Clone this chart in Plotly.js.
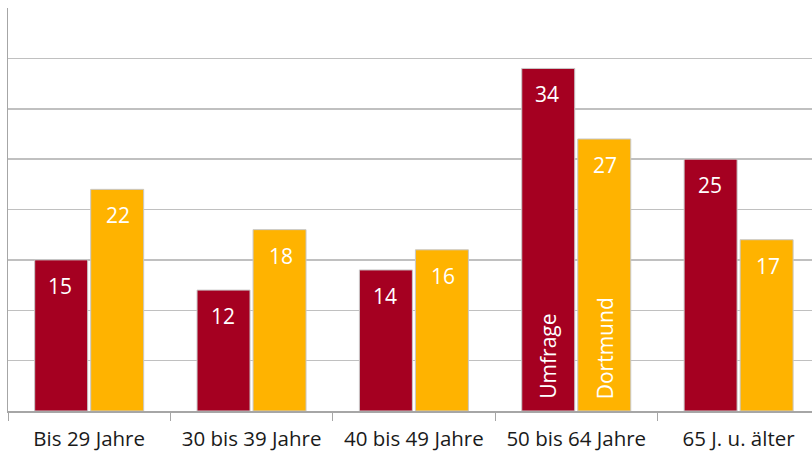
<!DOCTYPE html>
<html>
<head>
<meta charset="utf-8">
<script src="https://cdn.plot.ly/plotly-3.0.1.min.js"></script>
<style>html,body{margin:0;padding:0;background:#fff;}#chart{width:812px;height:453px;}</style>
</head>
<body>
<div id="chart"></div>
<script>
const categories = ["Bis 29 Jahre", "30 bis 39 Jahre", "40 bis 49 Jahre", "50 bis 64 Jahre", "65 J. u. älter"];
const seriesNames = ["Umfrage", "Dortmund"];
const umfrage = [15, 12, 14, 34, 25];
const dortmund = [22, 18, 16, 27, 17];
const colors = ["#A50021", "#FFB300"];
const seriesValues = [umfrage, dortmund];
const nameCategory = 3;

const traces = seriesValues.map((vals, i) => ({
  type: "bar",
  name: seriesNames[i],
  x: categories,
  y: vals,
  marker: {color: colors[i], line: {color: "#c8c8c8", width: 1}},
  hoverinfo: "skip"
}));

const annotations = [];
seriesValues.forEach((vals, i) => {
  const shift = i === 0 ? -29 : 29;
  vals.forEach((v, j) => {
    annotations.push({
      x: categories[j], y: v, xref: "x", yref: "y",
      text: String(v), showarrow: false,
      xshift: shift, yshift: -26,
      font: {family: "Open Sans, sans-serif", size: 21, color: "#ffffff"}
    });
  });
  annotations.push({
    x: categories[nameCategory], y: 0, xref: "x", yref: "y",
    text: seriesNames[i], showarrow: false, textangle: -90,
    xshift: shift, yanchor: "bottom", yshift: 10,
    font: {family: "Open Sans, sans-serif", size: 21, color: "#ffffff"}
  });
});

const layout = {
  width: 812, height: 453,
  margin: {l: 8, r: 0, t: 8, b: 42},
  paper_bgcolor: "#ffffff", plot_bgcolor: "#ffffff",
  showlegend: false,
  barmode: "group",
  bargap: 0.31,
  bargroupgap: 0.054,
  xaxis: {
    type: "category",
    range: [-0.5, 4.452],
    showgrid: false,
    showline: true, linecolor: "#a6a6a6", linewidth: 1.5,
    ticks: "outside", tickson: "boundaries", ticklen: 8, tickcolor: "#a6a6a6", tickwidth: 1,
    ticklabelstandoff: 9,
    tickfont: {family: "Open Sans, sans-serif", size: 20.5, color: "#1a1a1a"},
    fixedrange: true
  },
  yaxis: {
    range: [0, 40],
    dtick: 5,
    showticklabels: false,
    showgrid: true, gridcolor: "#c0c0c0", gridwidth: 1.5,
    showline: true, linecolor: "#a6a6a6", linewidth: 1.5,
    zeroline: false,
    ticks: "",
    fixedrange: true
  },
  annotations: annotations
};

Plotly.newPlot("chart", traces, layout, {displayModeBar: false, staticPlot: true});
</script>
</body>
</html>
